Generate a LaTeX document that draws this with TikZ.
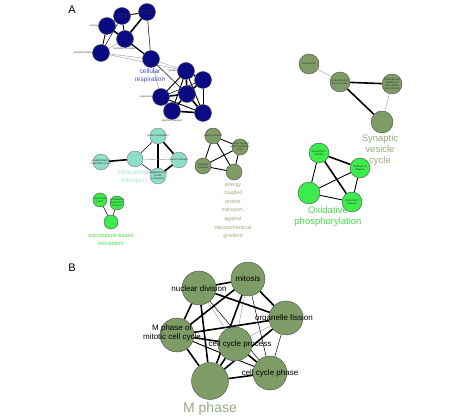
\documentclass[tikz,border=0pt]{standalone}
\usepackage{fontspec}
\setmainfont{Liberation Sans}
\usetikzlibrary{backgrounds}
\definecolor{navyc}{HTML}{0A0A85}
\definecolor{olivec}{HTML}{7E9C66}
\definecolor{olivet}{HTML}{94AA80}
\definecolor{brightg}{HTML}{3CEB4C}
\definecolor{brightt}{HTML}{4ADC4A}
\definecolor{tealc}{HTML}{8EDDC8}
\definecolor{tealt}{HTML}{A8E2DA}
\definecolor{bluet}{HTML}{4A4ACC}
\tikzset{
  bnode/.style={circle,draw=black!70,line width=0.4pt,fill=navyc,minimum size=17pt,inner sep=0pt},
  onode/.style={circle,draw=black!70,line width=0.4pt,fill=olivec,minimum size=#1,inner sep=0pt},
  gnode/.style={circle,draw=black!70,line width=0.4pt,fill=brightg,minimum size=#1,inner sep=0pt},
  tnode/.style={circle,draw=black!50,line width=0.4pt,fill=tealc,minimum size=16pt,inner sep=0pt},
  tiny/.style={font=\fontsize{2.6}{3}\selectfont,align=center,text=black!80,inner sep=0pt},
  blab/.style={font=\fontsize{8}{9}\selectfont,align=center,inner sep=0pt},
  hv/.style={black,line width=1.6pt},
  md/.style={black,line width=0.9pt},
  lt/.style={black,line width=0.5pt},
  gr/.style={black!40,line width=0.4pt},
}
\begin{document}
\begin{tikzpicture}[x=1pt,y=-1pt]
\useasboundingbox (0,0) rectangle (474,419);
\node (A) at (72,10) {\fontsize{11}{12}\selectfont A};
\node (B) at (72,268) {\fontsize{11}{12}\selectfont B};

% dark blue clusters
\node[bnode,label={[tiny]center:electron\\transport}] (n1) at (122,16) {};
\node[bnode,label={[tiny]center:generation of\\precursor}] (n2) at (147,12) {};
\node[bnode,label={[tiny]180:energy}] (n3) at (107,26) {};
\node[bnode,label={[tiny]below:oxidation of organic}] (n4) at (125,39) {};
\node[bnode,label={[tiny]180:phosphorylation}] (n5) at (101,53) {};
\node[bnode] (n6) at (151,59) {};
\node[blab,text=bluet,font=\fontsize{6.5}{7.5}\selectfont] (n6l) at (150,76) {cellular\\respiration};
\node[bnode,label={[tiny]180:aerobic}] (m1) at (186,71) {};
\node[bnode] (m2) at (203,80) {};
\node[bnode,label={[tiny]180:respiratory}] (m3) at (161,97) {};
\node[bnode] (m4) at (187,94) {};
\node[bnode,label={[tiny]below:electron transport}] (m5) at (172,111) {};
\node[bnode] (m6) at (203,113) {};

% olive synaptic cluster
\node[onode=20pt,label={[tiny]center:Phagosome}] (s1) at (309,64) {};
\node[onode=20pt,label={[tiny]center:Collecting duct\\acid secretion}] (s2) at (340,82) {};
\node[onode=20pt,label={[tiny]center:Epithelial cell\\signaling in\\Helicobacter\\pylori infection}] (s3) at (392,84) {};
\node[onode=22pt] (s4) at (382,122) {};
\node[font=\fontsize{9.5}{11}\selectfont,align=center,text=olivet,inner sep=0pt] (s4l) at (380,150) {Synaptic\\vesicle\\cycle};

% bright green oxidative cluster
\node[gnode=20pt,label={[tiny]center:Huntington's\\disease}] (o1) at (319,153) {};
\node[gnode=20pt,label={[tiny]center:Parkinson's\\disease}] (o2) at (360,168) {};
\node[gnode=20pt,label={[tiny]center:Alzheimer's\\disease}] (o3) at (352,202) {};
\node[gnode=22pt] (o4) at (309,193) {};
\node[font=\fontsize{9.5}{11}\selectfont,align=center,text=brightt,inner sep=0pt] (o4l) at (328,217) {Oxidative\\phosphorylation};

% teal intracellular transport
\node[tnode,label={[tiny]center:protein localization}] (t1) at (158,136) {};
\node[tnode,label={[tiny]center:establishment of\\localization in cell}] (t2) at (101,162) {};
\node[tnode] (t3) at (135,159) {};
\node[tnode,label={[tiny]center:protein transport}] (t4) at (179,160) {};
\node[tnode,label={[tiny]center:establishment of\\protein\\localization}] (t5) at (158,176) {};
\node[font=\fontsize{6.5}{8.5}\selectfont,align=center,text=tealt,inner sep=0pt] (t3l) at (134,177) {intracellular\\transport};

% olive energy coupled
\node[onode=16pt,label={[tiny]center:proton transport}] (e1) at (213,136) {};
\node[onode=16pt,label={[tiny]center:energy coupled\\proton transport,\\down}] (e2) at (240,147) {};
\node[onode=16pt,label={[tiny]center:hydrogen\\transport}] (e3) at (203,166) {};
\node[onode=16pt] (e4) at (234,172) {};
\node[font=\fontsize{5.3}{8.6}\selectfont,align=center,text=olivet,inner sep=0pt] (e4l) at (233,211) {energy\\coupled\\proton\\transport,\\against\\electrochemical\\gradient};

% microtubule
\node[gnode=14pt,label={[tiny]center:microtubule\\motor}] (g1) at (100,200) {};
\node[gnode=14pt,label={[tiny]center:cytoskeleton\\dependent\\transport}] (g2) at (117,203) {};
\node[gnode=14pt] (g3) at (111,222) {};
\node[font=\fontsize{5.5}{8}\selectfont,align=center,text=brightt,inner sep=0pt] (g3l) at (111,240) {microtubule-based\\movement};

% panel B
\node[onode=34pt] (mi) at (248,279) {};
\node[onode=34pt] (nd) at (199,288) {};
\node[onode=34pt] (of) at (286,318) {};
\node[onode=34pt] (Mm) at (177,335) {};
\node[onode=34pt] (cp) at (235,344) {};
\node[onode=34pt] (cc) at (270,373) {};
\node[onode=37pt] (Mp) at (210,381) {};
\node[blab] (mil) at (248,279) {mitosis};
\node[blab] (ndl) at (199,289) {nuclear division};
\node[blab] (ofl) at (284,318) {organelle fission};
\node[blab] (Mml) at (172,333) {M phase of\\mitotic cell cycle};
\node[blab] (cpl) at (240,344) {cell cycle process};
\node[blab] (ccl) at (270,373) {cell cycle phase};
\node[font=\fontsize{14}{16}\selectfont,text=olivet,inner sep=0pt] (Mpl) at (210,409) {M phase};

\begin{scope}[on background layer]
% cluster 1
\draw[md] (n1)--(n2); \draw[md] (n1)--(n3); \draw[md] (n1)--(n4);
\draw[hv] (n2)--(n4); \draw[lt] (n2)--(n6); \draw[hv] (n3)--(n4);
\draw[md] (n3)--(n5); \draw[gr] (n5)--(n4); \draw[gr] (n5)--(n6);
\draw[md] (n4)--(n6); \draw[md] (n3)--(n6); \draw[lt] (n1)--(n5);
% cluster 2
\draw[hv] (m1)--(m2); \draw[md] (m1)--(m3); \draw[hv] (m1)--(m4);
\draw[md] (m1)--(m5); \draw[md] (m1)--(m6); \draw[hv] (m2)--(m4);
\draw[md] (m2)--(m6); \draw[hv] (m3)--(m4); \draw[hv] (m3)--(m5);
\draw[md] (m3)--(m6); \draw[hv] (m4)--(m5); \draw[hv] (m4)--(m6);
\draw[hv] (m5)--(m6); \draw[lt] (m2)--(m3);
% cross
\draw[gr] (n6)--(m1); \draw[gr] (n6)--(m3); \draw[lt] (n6)--(m4);
\draw[gr] (n5)--(m1);
% synaptic
\draw[gr] (s1)--(s2); \draw[hv] (s2)--(s3); \draw[hv] (s2)--(s4); \draw[gr] (s3)--(s4);
% oxidative
\draw[hv] (o1)--(o2); \draw[hv] (o1)--(o3); \draw[md] (o1)--(o4);
\draw[md] (o2)--(o3); \draw[md] (o2)--(o4); \draw[md] (o4)--(o3);
% teal
\draw[hv] (t2)--(t3); \draw[lt] (t3)--(t1); \draw[hv] (t1)--(t4);
\draw[hv] (t1)--(t5); \draw[gr] (t3)--(t4); \draw[hv] (t4)--(t5);
\draw[lt] (t3)--(t5);
% energy coupled
\draw[md] (e1)--(e2); \draw[md] (e1)--(e3); \draw[md] (e1)--(e4);
\draw[md] (e2)--(e3); \draw[md] (e2)--(e4); \draw[md] (e3)--(e4);
% microtubule
\draw[lt] (g1)--(g3); \draw[lt] (g2)--(g3);
% panel B
\draw[hv] (nd)--(mi); \draw[hv] (nd)--(of); \draw[hv] (nd)--(Mm);
\draw[gr] (nd)--(cp); \draw[hv] (nd)--(Mp); \draw[lt] (nd)--(cc);
\draw[hv] (mi)--(of); \draw[hv] (mi)--(Mm); \draw[gr] (mi)--(cp);
\draw[hv] (mi)--(Mp); \draw[lt] (mi)--(cc);
\draw[hv] (of)--(Mm); \draw[gr] (of)--(cp); \draw[lt] (of)--(cc); \draw[hv] (of)--(Mp);
\draw[hv] (Mm)--(cp); \draw[hv] (Mm)--(Mp); \draw[md] (Mm)--(cc);
\draw[hv] (cp)--(Mp); \draw[hv] (cp)--(cc); \draw[hv] (cc)--(Mp);
\end{scope}
\end{tikzpicture}
\end{document}
